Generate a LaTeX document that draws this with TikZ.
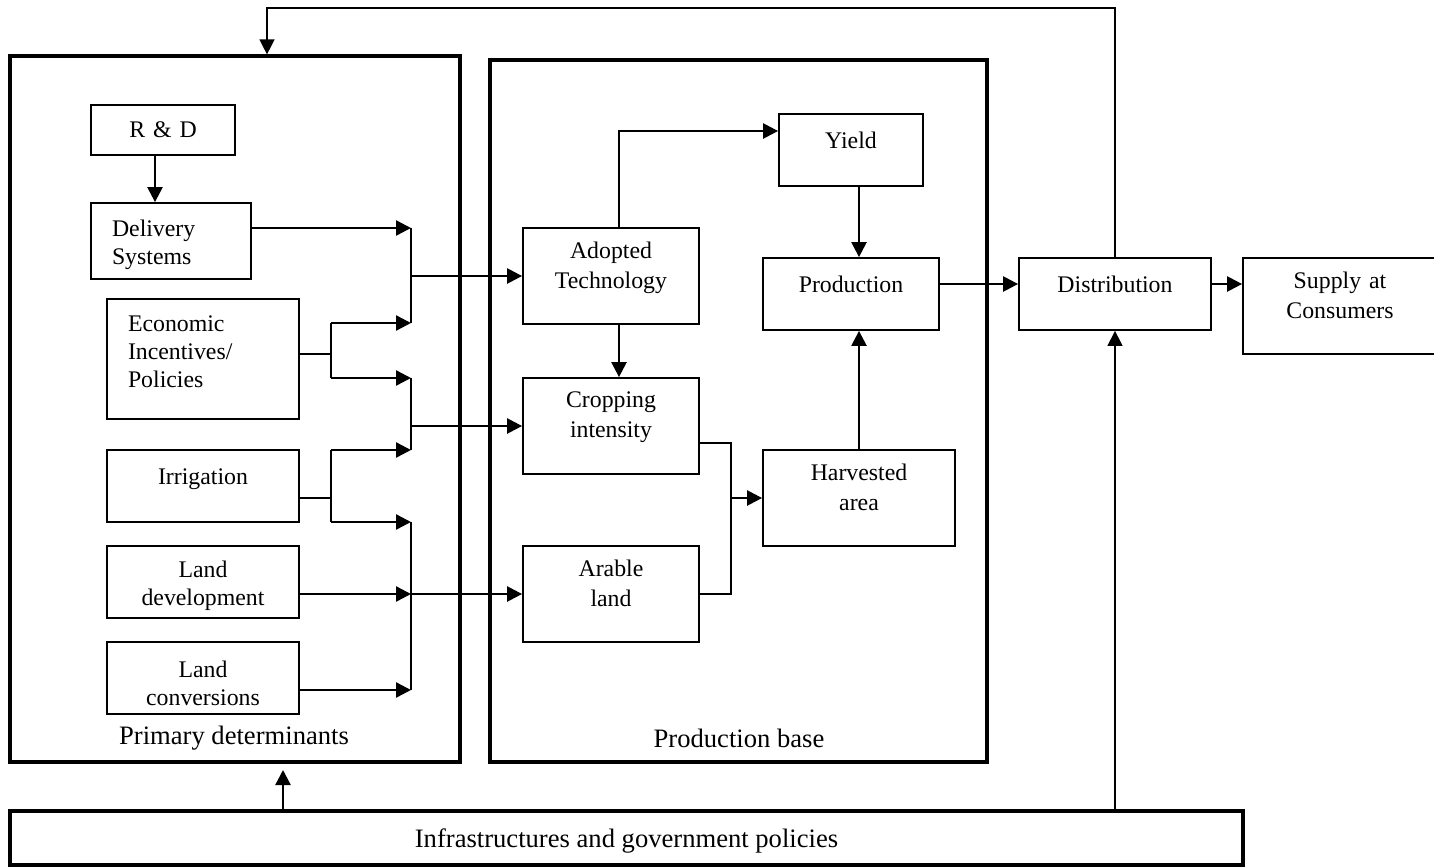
\documentclass[tikz,border=0pt]{standalone}
\usepackage{fontspec}
\setmainfont{Liberation Serif}
\usetikzlibrary{arrows.meta}

\tikzset{
  box/.style={draw, line width=0.9pt, inner sep=0pt, align=center,
    font=\fontsize{11.9}{14}\selectfont, text width=#1, minimum width=#1},
  leftbox/.style={box=#1, align=left, inner xsep=10.5pt},
  wide/.style={font=\fontsize{11.9}{15}\selectfont},
  bigbox/.style={draw, line width=1.6pt, inner sep=0pt},
  lift/.style={execute at end node={\\[#1]\mbox{}}},
  lift/.default=-4pt,
  drop/.style={execute at begin node={\mbox{}\\[#1]}},
  drop/.default=-1.5pt,
  arr/.style={line width=1.2pt, ->},
  wire/.style={line width=0.7pt},
  caption/.style={font=\fontsize{13.3}{16}\selectfont, anchor=base}
}

\begin{document}
\begin{tikzpicture}[x=0.5pt, y=-0.5pt, >={Triangle[length=7.5pt,width=7.5pt]}]
    \useasboundingbox (0,0) rectangle (1434,867);
    % The three big frames.
        \node[bigbox, minimum width=225pt, minimum height=353pt] (prim) at (235,409) {};
        \node[bigbox, minimum width=248.5pt, minimum height=351pt] (base) at (738.5,411) {};
        \node[bigbox, minimum width=616.5pt, minimum height=27pt, text depth=0pt,
              font=\fontsize{13.3}{16}\selectfont] (infra) at (626.5,838) {Infrastructures and government policies};
        \node[caption] (primlbl) at (234,744) {Primary determinants};
        \node[caption] (baselbl) at (739,747) {Production base};
    % Primary determinants.
        \node[box=72pt, minimum height=25pt] (rd) at (163,130) {R \& D};
        \node[leftbox=59pt, drop=-1.9pt, minimum height=38pt] (deliv) at (171,241) {Delivery\\Systems};
        \node[leftbox=75pt, lift=-6.6pt, minimum height=60pt] (econ) at (203,359) {Economic\\Incentives/\\Policies};
        \node[box=96pt, lift=-5pt, minimum height=36pt] (irrig) at (203,486) {Irrigation};
        \node[box=96pt, drop, minimum height=36pt] (landdev) at (203,582) {Land\\development};
        \node[box=96pt, drop=-0.5pt, minimum height=36pt] (landconv) at (203,678) {Land\\conversions};
    % Production base.
        \node[box=88pt, wide, lift, minimum height=48pt] (adopt) at (611,276) {Adopted\\Technology};
        \node[box=88pt, wide, lift, minimum height=48pt] (crop) at (611,426) {Cropping\\intensity};
        \node[box=88pt, wide, lift, minimum height=48pt] (arable) at (611,594) {Arable\\land};
        \node[box=72pt, lift, minimum height=36pt] (yield) at (851,150) {Yield};
        \node[box=88pt, lift, minimum height=36pt] (production) at (851,294) {Production};
        \node[box=96pt, wide, lift, minimum height=48pt] (harvest) at (859,498) {Harvested\\area};
    % Outside the frames.
        \node[box=96pt, lift, minimum height=36pt] (distrib) at (1115,294) {Distribution};
        \node[box=97pt, wide, lift, minimum height=48pt] (supply) at (1340,306) {Supply at\\Consumers};
    % Junction points of the connectors.
        \coordinate (bus1) at (411,228);
        \coordinate (bus1b) at (411,323);
        \coordinate (bus2) at (411,378);
        \coordinate (bus2b) at (411,450);
        \coordinate (bus3) at (411,522);
        \coordinate (bus3b) at (411,690);
        \coordinate (ej) at (331,354);
        \coordinate (ij) at (331,498);
        \coordinate (hj) at (731,498);
        \coordinate (fbtop) at (267,8);
        \coordinate (infraup) at (283,770);
    % Connectors on the left.
        \draw[arr] ([xshift=-4pt]rd.south) -- ([xshift=-4pt]rd.south |- deliv.north);
        \draw[arr] (deliv.east |- bus1) -- (bus1);
        \draw[wire] (econ.east |- ej) -- (ej);
        \draw[wire] (ej |- bus1b) -- (ej |- bus2);
        \draw[arr] (ej |- bus1b) -- (bus1b);
        \draw[arr] (ej |- bus2) -- (bus2);
        \draw[wire] (irrig.east |- ij) -- (ij);
        \draw[wire] (ij |- bus2b) -- (ij |- bus3);
        \draw[arr] (ij |- bus2b) -- (bus2b);
        \draw[arr] (ij |- bus3) -- (bus3);
        \draw[arr] (landdev.east |- arable) -- (bus3 |- arable);
        \draw[arr] (landconv.east |- bus3b) -- (bus3b);
        \draw[wire] (bus1) -- (bus1b);
        \draw[wire] (bus2) -- (bus2b);
        \draw[wire] (bus3) -- (bus3b);
        \draw[arr] (bus1 |- adopt) -- (adopt);
        \draw[arr] (bus2 |- crop) -- (crop);
        \draw[arr] (bus3 |- arable) -- (arable);
    % Connectors in the production base.
        \draw[arr] ([xshift=4pt]adopt.north) |- ([yshift=9.5pt]yield.west);
        \draw[arr] ([xshift=4pt]adopt.south) -- ([xshift=4pt]crop.north);
        \draw[arr] ([xshift=4pt]yield.south) -- ([xshift=4pt]production.north);
        \draw[wire] ([yshift=-8.5pt]crop.east) -| (hj |- arable) -- (arable.east);
        \draw[arr] (hj) -- (harvest);
        \draw[arr] (harvest.north) -- (harvest.north |- production.south);
        \draw[arr] ([yshift=5pt]production.east) -- ([yshift=5pt]distrib.west);
        \draw[arr] ([yshift=5pt]distrib.east) -- ([yshift=5pt]distrib.east -| supply.west);
    % Feedback and policies.
        \draw[wire, ->] (distrib.north) |- (fbtop) -- (fbtop |- prim.north);
        \draw[arr] (infraup |- infra.north) -- (infraup);
        \draw[wire, ->] (distrib.south |- infra.north) -- (distrib.south);
\end{tikzpicture}
\end{document}
